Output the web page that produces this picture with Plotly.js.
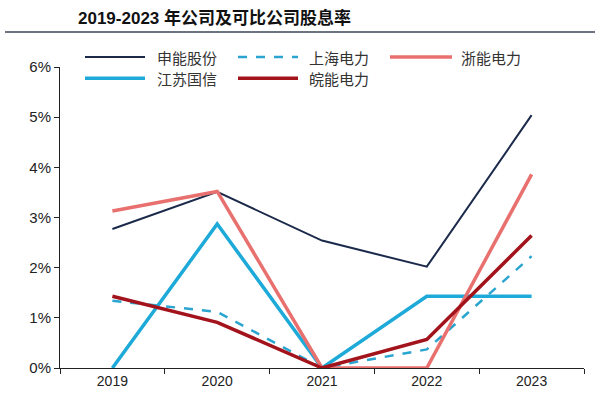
<!DOCTYPE html>
<html>
<head>
<meta charset="utf-8">
<script src="https://cdn.plot.ly/plotly-3.0.1.min.js"></script>
<style>
html,body{margin:0;padding:0;background:#ffffff;}
#chart{width:600px;height:408px;}
</style>
</head>
<body>
<div id="chart"></div>
<script>
// ---- data ----
const years = ['2019', '2020', '2021', '2022', '2023'];
const seriesNames = ['申能股份', '上海电力', '浙能电力', '江苏国信', '皖能电力'];
const shenneng = [2.77, 3.51, 2.54, 2.02, 5.04];
const shanghai = [1.34, 1.12, 0.00, 0.37, 2.23];
const zheneng  = [3.13, 3.52, 0.00, 0.00, 3.86];
const jiangsu  = [0.00, 2.87, 0.00, 1.43, 1.43];
const wanneng  = [1.43, 0.91, 0.00, 0.57, 2.64];
const yTickVals = [0, 1, 2, 3, 4, 5, 6];
const yTickText = ['0%', '1%', '2%', '3%', '4%', '5%', '6%'];
const titleText = '2019-2023 年公司及可比公司股息率';

// ---- styles ----
const colors = ['#1b2a4a', '#2aa5cf', '#e8706e', '#1eaad9', '#a3131b'];
const widths = [2, 2.5, 3.5, 3.5, 3.5];
const dashes = ['solid', 'dash', 'solid', 'solid', 'solid'];
const values = [shenneng, shanghai, zheneng, jiangsu, wanneng];
const drawOrder = [0, 1, 3, 2, 4];

const traces = drawOrder.map(i => ({
  type: 'scatter', mode: 'lines', x: years, y: values[i], name: seriesNames[i],
  line: {color: colors[i], width: widths[i], dash: dashes[i]},
  showlegend: false, hoverinfo: 'skip', cliponaxis: false
}));

// custom legend (paper coordinates) built from names/styles
const legCols = [[0.0477, 0.1622, 0.1813], [0.3397, 0.4542, 0.4714], [0.6298, 0.7481, 0.7615]];
const legRows = [1.033, 0.963];
const shapes = [];
const annotations = [];
seriesNames.forEach((nm, i) => {
  const c = legCols[i % 3], r = legRows[Math.floor(i / 3)];
  shapes.push({type: 'line', xref: 'paper', yref: 'paper', x0: c[0], x1: c[1], y0: r, y1: r,
    line: {color: colors[i], width: widths[i], dash: dashes[i]}});
  annotations.push({xref: 'paper', yref: 'paper', x: c[2], y: r, xanchor: 'left', yanchor: 'middle',
    text: nm, showarrow: false, font: {family: 'Noto Sans CJK SC, sans-serif', size: 15, color: '#333333'}});
});
// title underline
shapes.push({type: 'line', xref: 'paper', yref: 'paper', x0: -0.105, x1: 1.021, y0: 1.116, y1: 1.116,
  line: {color: '#3b4656', width: 1.5}});

const layout = {
  width: 600, height: 408,
  margin: {l: 60, r: 16, t: 67, b: 40},
  paper_bgcolor: '#ffffff', plot_bgcolor: '#ffffff',
  title: {text: '<b>' + titleText + '</b>', x: 78 / 600, xanchor: 'left', xref: 'container',
    y: 1 - 18 / 408, yanchor: 'middle', yref: 'container',
    font: {family: 'Liberation Sans, Noto Sans CJK SC, sans-serif', size: 17, color: '#111111'}},
  xaxis: {type: 'category', range: [-0.5, 4.5], showgrid: false, zeroline: false, showline: true,
    linecolor: '#222222', linewidth: 1,
    ticks: 'outside', tickson: 'boundaries', ticklen: 5, tickcolor: '#222222',
    tickfont: {family: 'Liberation Sans, Arial, sans-serif', size: 14, color: '#222222'}, fixedrange: true},
  yaxis: {range: [0, 6], tickvals: yTickVals, ticktext: yTickText, showgrid: false, zeroline: false,
    showline: true, linecolor: '#222222', linewidth: 1, ticks: 'outside', ticklen: 5, tickcolor: '#222222',
    tickfont: {family: 'Liberation Sans, Arial, sans-serif', size: 15, color: '#222222'}, fixedrange: true},
  shapes: shapes, annotations: annotations, showlegend: false
};

Plotly.newPlot('chart', traces, layout, {displayModeBar: false, staticPlot: true});
</script>
</body>
</html>
